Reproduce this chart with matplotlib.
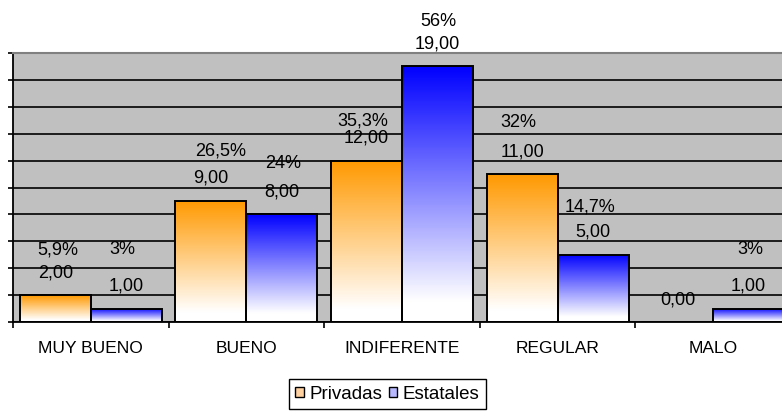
import numpy as np
import matplotlib
matplotlib.use('Agg')
import matplotlib.pyplot as plt
from matplotlib.colors import LinearSegmentedColormap
from matplotlib.patches import Rectangle

# ---------------- data ----------------
categories = ['MUY BUENO', 'BUENO', 'INDIFERENTE', 'REGULAR', 'MALO']
series_names = ['Privadas', 'Estatales']
privadas = [2, 9, 12, 11, 0]
estatales = [1, 8, 19, 5, 1]
privadas_pct = ['5,9%', '26,5%', '35,3%', '32%', '']
estatales_pct = ['3%', '24%', '56%', '14,7%', '3%']

# ---------------- layout of the free-standing percentage labels ----------------
privadas_pct_y = [5.37, 12.69, 14.93, 14.85, 0]      # data units
estatales_pct_y = [5.37, 11.79, 22.31, 8.58, 5.37]
privadas_pct_dx = [2, 7, -3, -3, 0]                   # points
estatales_pct_dx = [-3, 1, 1, -2, 1]

plt.rcParams['font.family'] = ['Liberation Sans', 'DejaVu Sans']
FS_LAB = 13
FS_CAT = 12.5
FS_LEG = 13.5

fig = plt.figure(figsize=(7.82, 4.11), dpi=100)
ax = fig.add_axes([13 / 782, 1 - 322 / 411, (791 - 13) / 782, (322 - 53) / 411])
ax.set_facecolor('#C0C0C0')

x = np.arange(len(categories))
w = 0.456
colors = ['#FF9900', '#0000FF']


def grad_fill(bar, color):
    x0, y0 = bar.get_x(), bar.get_y()
    bw, bh = bar.get_width(), bar.get_height()
    if bh <= 0:
        return
    grad = np.linspace(0, 1, 256).reshape(-1, 1)
    cmap = LinearSegmentedColormap.from_list(
        'g', [(0.0, '#FFFFFF'), (0.08, '#FFFFFF'), (1.0, color)])
    im = ax.imshow(grad, extent=(x0, x0 + bw, y0, y0 + bh), origin='lower',
                   aspect='auto', cmap=cmap, zorder=2, interpolation='bilinear')
    im.set_clip_path(bar)


def fmt(v):
    return f'{v:.2f}'.replace('.', ',')


for k, (vals, pcts, pys, pdx) in enumerate([
        (privadas, privadas_pct, privadas_pct_y, privadas_pct_dx),
        (estatales, estatales_pct, estatales_pct_y, estatales_pct_dx)]):
    xs = x + (k - 0.5) * w
    bars = ax.bar(xs, vals, w, facecolor='none', edgecolor='black',
                  linewidth=1.4, zorder=3)
    for b in bars:
        grad_fill(b, colors[k])
    for xi, v, p, py, dx in zip(xs, vals, pcts, pys, pdx):
        ax.annotate(fmt(v), xy=(xi, v), xytext=(0, 16.2), textcoords='offset points',
                    ha='center', va='center', fontsize=FS_LAB, color='black',
                    annotation_clip=False, zorder=5)
        if p:
            ax.annotate(p, xy=(xi, py), xytext=(dx, 0), textcoords='offset points',
                        ha='center', va='center', fontsize=FS_LAB, color='black',
                        annotation_clip=False, zorder=5)

ax.set_xlim(-0.5, len(categories) - 0.5)
ax.set_ylim(0, 20)

# grid and ticks
ax.set_yticks(np.arange(0, 21, 2))
ax.set_yticklabels([])
ax.yaxis.grid(True, color='black', linewidth=1.2)
ax.set_axisbelow(True)
ax.tick_params(axis='y', direction='out', length=3.5, width=1.2, color='black')

ax.set_xticks(x)
ax.set_xticklabels(categories, fontsize=FS_CAT)
ax.tick_params(axis='x', which='major', length=0, pad=14)
ax.set_xticks(np.arange(-0.5, len(categories)), minor=True)
ax.tick_params(axis='x', which='minor', direction='out', length=4, width=1.2, color='black')

for s in ['left', 'bottom']:
    ax.spines[s].set_color('black')
    ax.spines[s].set_linewidth(1.3)
ax.spines['top'].set_color('#808080')
ax.spines['top'].set_linewidth(1.5)
ax.spines['right'].set_visible(False)

handles = [Rectangle((0, 0), 1, 1, facecolor='#FFD0A0', edgecolor='black', linewidth=1),
           Rectangle((0, 0), 1, 1, facecolor='#B8B8FF', edgecolor='black', linewidth=1)]
leg = fig.legend(handles, series_names, loc='upper center',
                 bbox_to_anchor=(387.5 / 782, 1 - 379 / 411), ncol=2,
                 frameon=True, fancybox=False, edgecolor='black', facecolor='white',
                 framealpha=1, handlelength=0.45, handleheight=0.45, handletextpad=0.3,
                 columnspacing=0.35, borderpad=0.35, borderaxespad=0, fontsize=FS_LEG)
leg.get_frame().set_linewidth(1.0)

fig.savefig('out.png', dpi=100)
